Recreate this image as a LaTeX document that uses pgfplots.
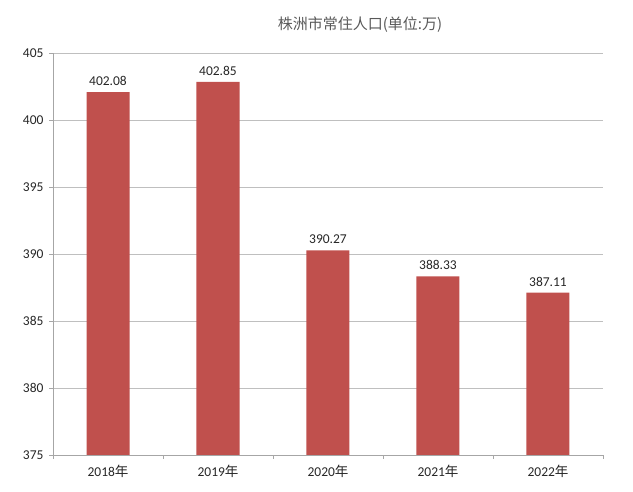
\documentclass[border=0pt]{standalone}
\usepackage{pgfplots}
\pgfplotsset{compat=1.18}
\usepackage{fontspec}
\setmainfont{Carlito}
\newfontfamily\cjk{Noto Sans CJK SC}
\definecolor{barred}{HTML}{C0504D}
\definecolor{gridgray}{HTML}{BFBFBF}
\definecolor{axisgray}{HTML}{A6A6A6}
\definecolor{txt}{HTML}{262626}
\definecolor{titlegray}{HTML}{595959}
\begin{document}
\begin{tikzpicture}[x=1pt,y=1pt]
\useasboundingbox (0,0) rectangle (633,492);
\begin{axis}[
    at={(53pt,37pt)}, anchor=south west,
    scale only axis,
    width=550pt, height=402pt,
    xmin=-0.5, xmax=4.5,
    ymin=375, ymax=405,
    ytick={375,380,...,405},
    xtick={0,1,2,3,4},
    xticklabels={2018{\cjk 年},2019{\cjk 年},2020{\cjk 年},2021{\cjk 年},2022{\cjk 年}},
    minor xtick={-0.5,0.5,1.5,2.5,3.5,4.5},
    major x tick style={draw=none},
    minor x tick style={draw=axisgray},
    minor tick length=4pt,
    major tick length=4pt,
    tick align=outside,
    ytick pos=left, xtick pos=bottom,
    ytick style={draw=axisgray},
    ymajorgrids, grid style={gridgray, line width=0.8pt},
    axis x line*=bottom, axis y line*=left,
    axis line style={axisgray, line width=0.8pt, -},
    ticklabel style={font=\fontsize{13.5}{15}\selectfont, text=txt},
    /pgf/number format/assume math mode=true,
    yticklabel style={xshift=-2pt},
    xticklabel style={yshift=-3pt},
    ybar, bar width=43pt,
    nodes near coords={\pgfmathprintnumber[fixed,fixed zerofill,precision=2]{\pgfplotspointmeta}},
    nodes near coords style={font=\fontsize{13.5}{15}\selectfont, text=txt, yshift=3pt},
    clip=false,
  ]
  \addplot[fill=barred, draw=none] coordinates {(0,402.08) (1,402.85) (2,390.27) (3,388.33) (4,387.11)};
\end{axis}
\node[font=\cjk\fontsize{15}{18}\selectfont, text=titlegray] at (360,467) {株洲市常住人口(单位:万)};
\end{tikzpicture}
\end{document}
